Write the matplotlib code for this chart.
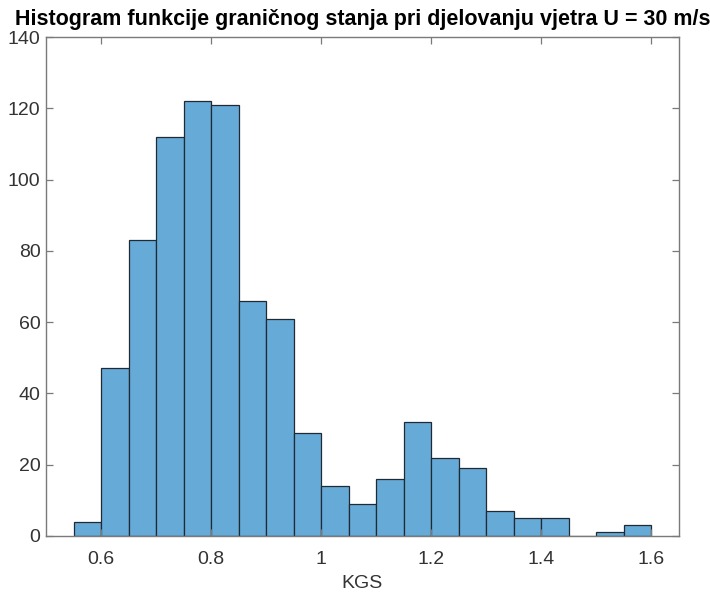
import matplotlib
matplotlib.use("Agg")
import matplotlib.pyplot as plt
import numpy as np

bin_edges = [0.55, 0.60, 0.65, 0.70, 0.75, 0.80, 0.85, 0.90, 0.95, 1.00, 1.05,
             1.10, 1.15, 1.20, 1.25, 1.30, 1.35, 1.40, 1.45, 1.50, 1.55, 1.60]
counts = [4, 47, 83, 112, 122, 121, 66, 61, 29, 14, 9,
          16, 32, 22, 19, 7, 5, 5, 0, 1, 3]
x_ticks = [0.6, 0.8, 1.0, 1.2, 1.4, 1.6]
x_tick_labels = ["0.6", "0.8", "1", "1.2", "1.4", "1.6"]
y_ticks = [0, 20, 40, 60, 80, 100, 120, 140]

title = "Histogram funkcije graničnog stanja pri djelovanju vjetra U = 30 m/s"
xlabel = "KGS"

plt.rcParams['font.family'] = ['Liberation Sans', 'DejaVu Sans']

fig = plt.figure(figsize=(7.1, 5.96), dpi=100)
ax = fig.add_axes([0.0648, 0.1007, 0.8915, 0.8372])

edges = np.array(bin_edges)
ax.bar(edges[:-1], counts, width=np.diff(edges), align='edge',
       color='#66aad7', edgecolor='#1f2a33', linewidth=0.9)

ax.set_xlim(0.5, 1.65)
ax.set_ylim(0, 140)
ax.set_xticks(x_ticks)
ax.set_xticklabels(x_tick_labels)
ax.set_yticks(y_ticks)

axcol = '#7a7a7a'
for s in ax.spines.values():
    s.set_color(axcol)
    s.set_linewidth(1.0)
ax.tick_params(direction='in', top=True, right=True, length=5, width=0.9,
               color=axcol, labelcolor='#333333', labelsize=14)
ax.tick_params(axis='x', pad=11)
ax.tick_params(axis='y', pad=4)

ax.set_xlabel(xlabel, fontsize=14, color='#333333', labelpad=5)
ax.set_title(title, fontsize=15.5, fontweight='bold', color='black', pad=9)

fig.savefig("out.png", dpi=100)
